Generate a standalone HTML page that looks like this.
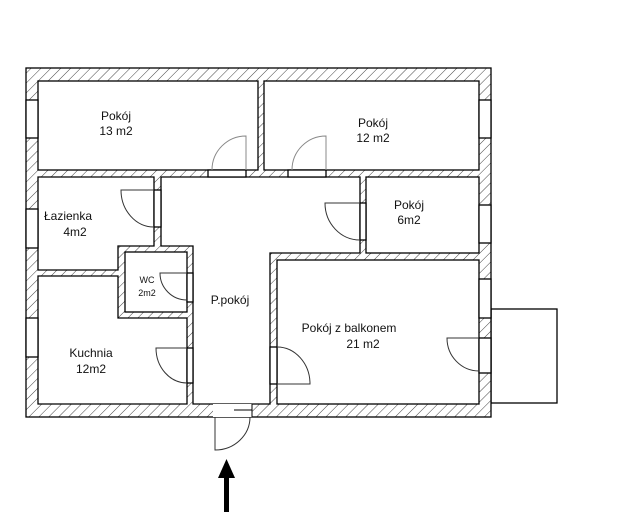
<!DOCTYPE html>
<html><head><meta charset="utf-8"><style>
html,body{margin:0;padding:0;background:#fff;}
svg{display:block;}
text{font-family:"Liberation Sans",sans-serif;font-size:12px;fill:#111;text-anchor:middle;}
</style></head><body>
<svg width="641" height="519" viewBox="0 0 641 519" xmlns="http://www.w3.org/2000/svg">
<defs>
<pattern id="h" width="7" height="7" patternUnits="userSpaceOnUse" patternTransform="rotate(45)">
<rect width="7" height="7" fill="#fff"/>
<line x1="0" y1="0" x2="0" y2="7" stroke="#444" stroke-width="1"/>
</pattern>
</defs>
<rect x="491" y="309" width="66" height="94" fill="#fff" stroke="#000" stroke-width="1.3"/>
<rect x="26" y="68" width="465" height="349" fill="url(#h)" stroke="#000" stroke-width="1.3"/>
<g fill="#fff" stroke="#000" stroke-width="1.3">
<rect x="38" y="81" width="220" height="89"/>
<rect x="264" y="81" width="215" height="89"/>
<polygon points="38,177 154,177 154,246 118,246 118,270 38,270"/>
<polygon points="38,276 118,276 118,318 187,318 187,404 38,404"/>
<rect x="125" y="252" width="62" height="60"/>
<polygon points="161,177 360,177 360,253 270,253 270,404 193,404 193,246 161,246"/>
<rect x="366" y="177" width="113" height="76"/>
<rect x="277" y="260" width="202" height="144"/>
<rect x="26" y="100" width="12" height="38"/>
<rect x="26" y="209" width="12" height="39"/>
<rect x="26" y="318" width="12" height="39"/>
<rect x="479" y="100" width="12" height="38"/>
<rect x="479" y="205" width="12" height="38"/>
<rect x="479" y="279" width="12" height="39"/>
<rect x="479" y="338" width="12" height="35"/>
<rect x="208" y="170" width="38" height="7"/>
<rect x="288" y="170" width="38" height="7"/>
<rect x="154" y="190" width="7" height="37"/>
<rect x="187" y="273" width="6" height="29"/>
<rect x="187" y="348" width="6" height="35"/>
<rect x="360" y="203" width="6" height="37"/>
<rect x="270" y="347" width="7" height="37"/>
</g>
<rect x="213" y="404" width="39" height="13" fill="#fff"/>
<line x1="234" y1="410" x2="252" y2="410" stroke="#000" stroke-width="1"/>
<line x1="252" y1="404" x2="252" y2="417" stroke="#000" stroke-width="1"/>
<g fill="none" stroke="#333" stroke-width="1">
<path d="M246,170 V136 A34,34 0 0 0 212,170" stroke="#888"/>
<path d="M326,170 V136 A34,34 0 0 0 292,170" stroke="#888"/>
<path d="M154,190 H121 A33,37 0 0 0 154,227"/>
<path d="M187,273 H160 A27,27 0 0 0 187,300"/>
<path d="M187,348 H156 A31,35 0 0 0 187,383"/>
<path d="M360,203 H325 A35,37 0 0 0 360,240"/>
<path d="M277,384 H310 A33,37 0 0 0 277,347"/>
<path d="M479,338 H447 A32,33 0 0 0 479,371"/>
<path d="M215,417 V450 A35,33 0 0 0 250,417"/>
</g>
<rect x="224" y="477" width="5" height="35" fill="#000"/>
<polygon points="226.5,459 218,478 235,478" fill="#000"/>
<text x="116" y="120">Pokój</text><text x="116" y="135">13 m2</text>
<text x="373" y="127">Pokój</text><text x="373" y="142">12 m2</text>
<text x="68" y="220">Łazienka</text><text x="75" y="236">4m2</text>
<text x="147" y="283" style="font-size:9px">WC</text><text x="147" y="296" style="font-size:9px">2m2</text>
<text x="230" y="304">P.pokój</text>
<text x="409" y="209">Pokój</text><text x="409" y="224">6m2</text>
<text x="349" y="332">Pokój z balkonem</text><text x="363" y="348">21 m2</text>
<text x="91" y="357">Kuchnia</text><text x="91" y="373">12m2</text>
</svg>
</body></html>
